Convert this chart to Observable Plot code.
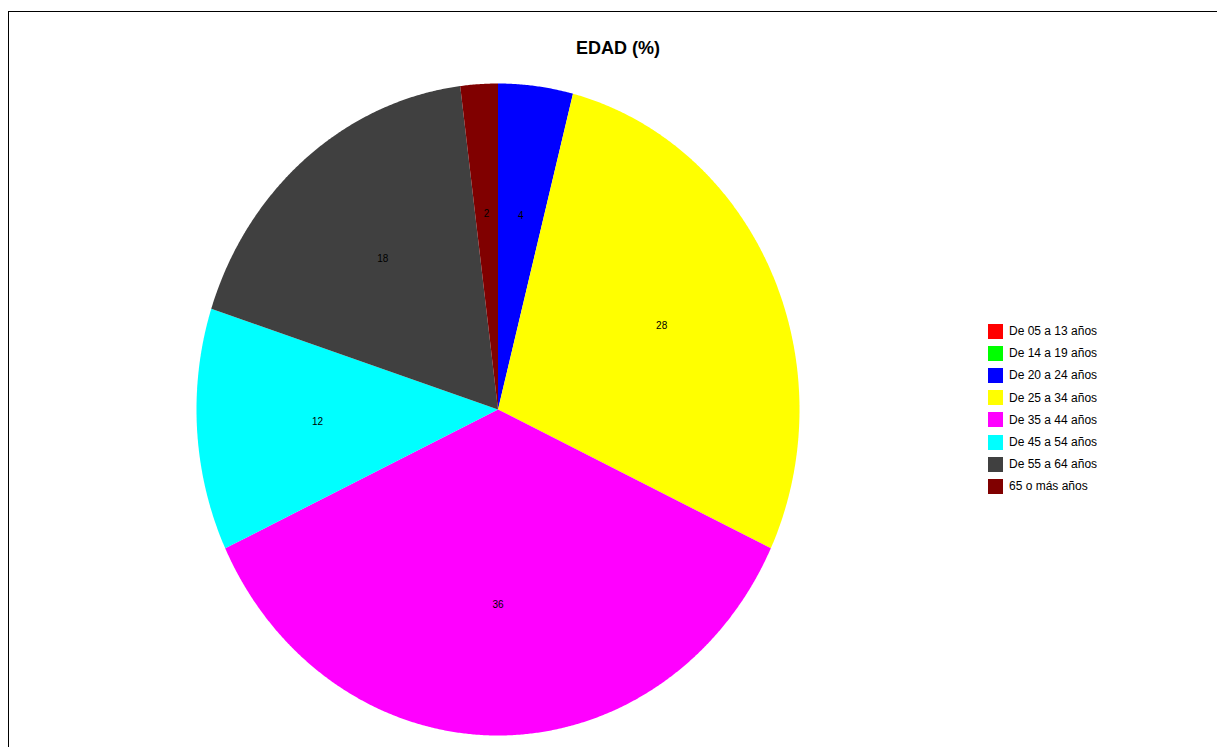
<!DOCTYPE html>
<html>
<head>
<meta charset="utf-8">
<script src="https://cdn.jsdelivr.net/npm/d3@7"></script>
<script src="https://cdn.jsdelivr.net/npm/@observablehq/plot@0.6"></script>
<style>
  html, body { margin: 0; padding: 0; background: #fff; overflow: hidden; width: 1217px; height: 747px; }
  #wrap { position: relative; width: 1217px; height: 747px; overflow: hidden; font-family: "Liberation Sans", Arial, sans-serif; }
  #frameL { position: absolute; left: 8px; top: 11px; width: 1px; height: 736px; background: #000; }
  #frameT { position: absolute; left: 8px; top: 11px; width: 1209px; height: 1px; background: #000; }
  #chart { position: absolute; left: 0; top: 0; }
  #title { position: absolute; left: 518px; width: 200px; top: 38px; height: 20px; line-height: 20px; text-align: center; font-weight: bold; font-size: 18px; color: #000; }
  #legend { position: absolute; left: 988px; top: 320px; }
  #legend .leg-swatch { height: 22.2px; margin: 0 !important; padding: 0 !important; display: flex; align-items: center; }
  #legend .leg-swatch svg { margin-right: 6px !important; }
  #legend .leg-swatches { margin: 0 !important; min-height: 0 !important; }
</style>
</head>
<body>
<div id="wrap">
  <div id="frameL"></div>
  <div id="frameT"></div>
  <div id="chart"></div>
  <div id="title">EDAD (%)</div>
  <div id="legend"></div>
</div>
<script>
const categories = ["De 05 a 13 años", "De 14 a 19 años", "De 20 a 24 años", "De 25 a 34 años", "De 35 a 44 años", "De 45 a 54 años", "De 55 a 64 años", "65 o más años"];
const values = [0, 0, 4, 28, 36, 12, 18, 2];
const colors = ["#ff0000", "#00ff00", "#0000ff", "#ffff00", "#ff00ff", "#00ffff", "#404040", "#800000"];

const data = categories.map((c, i) => ({category: c, value: values[i]}));
const arcs = d3.pie().sort(null).value(d => d.value)(data);

// polygon vertices for each slice (angle 0 at top, clockwise)
const poly = [];
const labels = [];
for (const a of arcs) {
  if (a.data.value <= 0) continue;
  const n = Math.max(2, Math.ceil((a.endAngle - a.startAngle) / 0.005));
  poly.push({category: a.data.category, x: 0, y: 0});
  for (let k = 0; k <= n; k++) {
    const t = a.startAngle + (a.endAngle - a.startAngle) * k / n;
    poly.push({category: a.data.category, x: Math.sin(t), y: Math.cos(t)});
  }
  const m = (a.startAngle + a.endAngle) / 2;
  labels.push({text: String(a.data.value), x: 0.6 * Math.sin(m), y: 0.6 * Math.cos(m)});
}

const colorScale = {domain: categories, range: colors};

const chart = Plot.plot({
  width: 1217,
  height: 747,
  margin: 0,
  style: {background: "transparent", fontFamily: "'Liberation Sans', Arial, sans-serif"},
  x: {domain: [-1, 1], range: [196, 799], axis: null},
  y: {domain: [-1, 1], range: [735, 83], axis: null},
  color: colorScale,
  marks: [
    Plot.line(poly, {x: "x", y: "y", z: "category", fill: "category", stroke: "none", curve: "linear"}),
    Plot.text(labels, {x: "x", y: "y", text: "text", fill: "black", fontSize: 10})
  ]
});
document.getElementById("chart").appendChild(chart);

const legend = Plot.legend({
  color: {...colorScale, type: "ordinal"},
  legend: "swatches",
  columns: 1,
  swatchSize: 15,
  className: "leg",
  style: {fontFamily: "'Liberation Sans', Arial, sans-serif", fontSize: "12px", color: "#000"}
});
document.getElementById("legend").appendChild(legend);
</script>
</body>
</html>
